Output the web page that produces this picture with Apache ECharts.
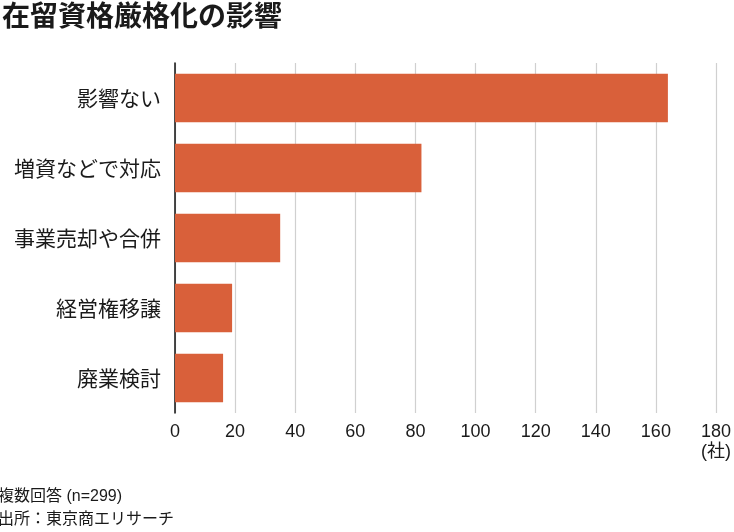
<!DOCTYPE html>
<html>
<head>
<meta charset="utf-8">
<script src="https://cdn.jsdelivr.net/npm/echarts@6/dist/echarts.min.js"></script>
<style>
  html, body { margin: 0; padding: 0; background: #fff; }
  #main { width: 734px; height: 532px; }
</style>
</head>
<body>
<div id="main"></div>
<script>
  // データ
  var categories = ['影響ない', '増資などで対応', '事業売却や合併', '経営権移譲', '廃業検討'];
  var counts = [164, 82, 35, 19, 16];
  var notes = ['複数回答 (n=299)', '出所：東京商エリサーチ'];

  var font = '"Noto Sans CJK JP", "Noto Sans", sans-serif';
  var numFont = '"Liberation Sans", "Noto Sans CJK JP", sans-serif';
  var myChart = echarts.init(document.getElementById('main'));

  var option = {
    backgroundColor: '#fff',
    animation: false,
    title: {
      text: '在留資格厳格化の影響',
      left: -3,
      top: -4,
      textStyle: { fontFamily: font, fontSize: 28, fontWeight: 'bold', color: '#1a1a1a' }
    },
    grid: { left: 175, right: 13, top: 63, bottom: 119, containLabel: false },
    xAxis: {
      type: 'value',
      min: 0,
      max: 180,
      interval: 20,
      axisLine: { show: false },
      axisTick: { show: false },
      splitLine: { show: true, lineStyle: { color: '#d0d0d0', width: 1.2 } },
      axisLabel: {
        margin: 9,
        color: '#1a1a1a',
        fontFamily: numFont,
        fontSize: 18,
        lineHeight: 20,
        formatter: function (v) { return v === 180 ? '180\n(社)' : String(v); }
      }
    },
    yAxis: {
      type: 'category',
      data: categories,
      inverse: true,
      axisLine: { show: true, lineStyle: { color: '#111', width: 1.5 } },
      axisTick: { show: false },
      axisLabel: { margin: 14, color: '#1a1a1a', fontFamily: font, fontSize: 21 }
    },
    series: [{
      type: 'bar',
      data: counts,
      barCategoryGap: '31%',
      itemStyle: { color: '#d9603a' }
    }],
    graphic: [
      {
        type: 'text', left: -2, top: 489,
        style: { text: notes[0], font: '16px ' + numFont, fill: '#1a1a1a' }
      },
      {
        type: 'text', left: -2, top: 510,
        style: { text: notes[1], font: '16px ' + font, fill: '#1a1a1a' }
      }
    ]
  };
  myChart.setOption(option);
</script>
</body>
</html>
